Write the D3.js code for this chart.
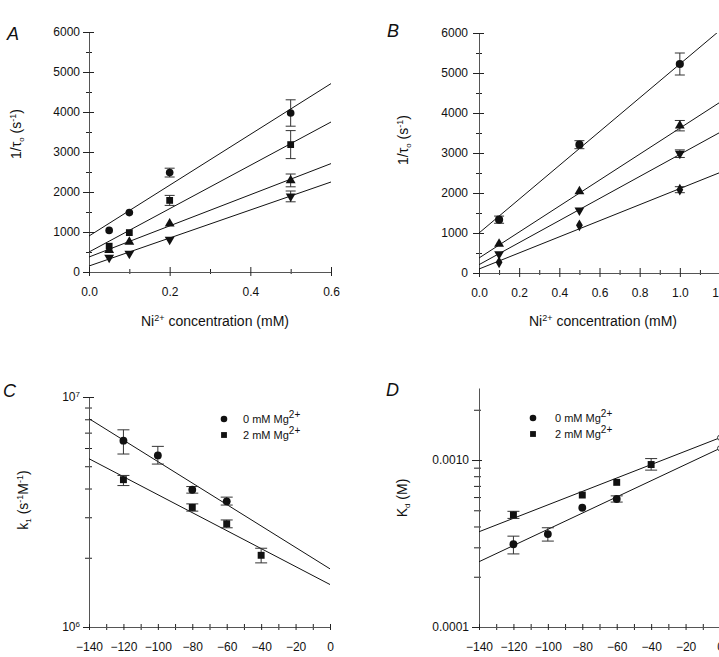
<!DOCTYPE html>
<html><head><meta charset="utf-8">
<script src="https://cdn.jsdelivr.net/npm/d3@7"></script>
<style>
body{margin:0;background:#fff}
svg{display:block}
text{font-family:"Liberation Sans",Arial,Helvetica,sans-serif;fill:#111}
</style>
</head><body>
<svg id="chart" width="719" height="657"></svg>
<script>
// ---------- Panel A data (Ni2+ mM vs 1/tau, s^-1) ----------
const concA = [0.05, 0.1, 0.2, 0.5];
const aCircle = [1040, 1485, 2485, 3975];
const aCircleErr = [null, null, 110, 330];
const aSquare = [645, 985, 1790, 3185];
const aSquareErr = [null, null, 125, 350];
const aTriUp = [545, 750, 1210, 2290];
const aTriUpErr = [null, null, null, 160];
const aTriDown = [360, 460, 810, 1890];
const aTriDownErr = [null, null, null, 135];
const aFitStart = [900, 500, 375, 150];     // fitted value at 0 mM
const aFitEnd = [4710, 3750, 2710, 2250];   // fitted value at 0.6 mM
const aXTicks = [0.0, 0.2, 0.4, 0.6];
const aYTicks = [0, 1000, 2000, 3000, 4000, 5000, 6000];

// ---------- Panel B data ----------
const concB = [0.1, 0.5, 1.0];
const bCircle = [1333, 3208, 5225];
const bCircleErr = [90, 100, 275];
const bTriUp = [725, 2042, 3683];
const bTriUpErr = [null, null, 130];
const bTriDown = [475, 1567, 2983];
const bTriDownErr = [null, null, 95];
const bDiamond = [267, 1192, 2083];
const bDiamondErr = [null, null, 75];
const bFitStart = [1000, 375, 208, 100];   // at 0 mM
const bFitEnd = [6068, 4269, 3516, 2512];  // at 1.2 mM
const bXTicks = [0.0, 0.2, 0.4, 0.6, 0.8, 1.0, 1.2];
const bYTicks = [0, 1000, 2000, 3000, 4000, 5000, 6000];

// ---------- Panel C data (voltage mV vs k1) ----------
const voltC0 = [-120, -100, -80, -60];
const cZero = [6.46e6, 5.57e6, 3.95e6, 3.52e6];
const cZeroLo = [5.65e6, 5.11e6, 3.82e6, 3.39e6];
const cZeroHi = [7.2e6, 6.1e6, 4.08e6, 3.67e6];
const voltC2 = [-120, -80, -60, -40];
const cTwo = [4.37e6, 3.31e6, 2.81e6, 2.05e6];
const cTwoLo = [4.12e6, 3.19e6, 2.70e6, 1.90e6];
const cTwoHi = [4.56e6, 3.43e6, 2.92e6, 2.20e6];
const cFit0 = [8.05e6, 1.79e6];   // at -140 and 0 mV
const cFit2 = [5.39e6, 1.53e6];

// ---------- Panel D data (voltage mV vs Kd) ----------
const voltD0 = [-120, -100, -80, -60];
const dZero = [3.13e-4, 3.6e-4, 5.18e-4, 5.84e-4];
const dZeroLo = [2.74e-4, 3.27e-4, null, 5.6e-4];
const dZeroHi = [3.5e-4, 3.93e-4, null, 6.1e-4];
const voltD2 = [-120, -80, -60, -40];
const dTwo = [4.69e-4, 6.17e-4, 7.35e-4, 9.4e-4];
const dTwoLo = [4.47e-4, null, null, 8.7e-4];
const dTwoHi = [4.93e-4, null, null, 1.02e-3];
const dFit0 = [2.46e-4, 1.175e-3];
const dFit2 = [3.72e-4, 1.36e-3];

const voltTicks = [-140, -120, -100, -80, -60, -40, -20, 0];
const legendLabels = ["0 mM Mg", "2 mM Mg"];

// ---------- helpers ----------
const svg = d3.select("#chart");
const FONT = 12;
const NOLABEL = () => "";

function symPath(kind, size) {
  if (kind === "circle") return d3.symbol(d3.symbolCircle, size || 46)();
  if (kind === "square") return d3.symbol(d3.symbolSquare, size || 46)();
  if (kind === "diamond") return d3.symbol(d3.symbolDiamond, size || 40)();
  return d3.symbol(d3.symbolTriangle, size || 42)();
}
function drawSymbol(g, kind, x, y, size) {
  g.append("path").attr("d", symPath(kind, size))
    .attr("transform", `translate(${x},${y})` + (kind === "triDown" ? " rotate(180)" : ""))
    .attr("fill", "#111");
}
function errBar(g, x, y1, y2, cap) {
  const c = cap || 5;
  g.append("line").attr("x1", x).attr("x2", x).attr("y1", y1).attr("y2", y2);
  g.append("line").attr("x1", x - c).attr("x2", x + c).attr("y1", y1).attr("y2", y1);
  g.append("line").attr("x1", x - c).attr("x2", x + c).attr("y1", y2).attr("y2", y2);
}
function styleAxis(sel, showDomain) {
  sel.selectAll(".tick line").attr("stroke", "#222");
  sel.select(".domain").attr("stroke", showDomain ? "#555" : "none");
  sel.selectAll("text").attr("font-size", FONT).attr("fill", "#111")
    .attr("font-family", '"Liberation Sans",Arial,sans-serif');
}
// crossing ticks: outer part (with labels) + inner part (no labels)
function yAxis(x0, scale, vals, outSize, inSize, fmt, pad) {
  const a = svg.append("g").attr("transform", `translate(${x0},0)`)
    .call(d3.axisLeft(scale).tickValues(vals).tickSize(outSize).tickSizeOuter(0)
      .tickPadding(pad).tickFormat(fmt || NOLABEL));
  styleAxis(a, !!fmt);
  const b = svg.append("g").attr("transform", `translate(${x0},0)`)
    .call(d3.axisRight(scale).tickValues(vals).tickSize(inSize).tickSizeOuter(0).tickFormat(NOLABEL));
  styleAxis(b, false);
  return a;
}
function xAxis(y0, scale, vals, outSize, inSize, fmt, pad) {
  const a = svg.append("g").attr("transform", `translate(0,${y0})`)
    .call(d3.axisBottom(scale).tickValues(vals).tickSize(outSize).tickSizeOuter(0)
      .tickPadding(pad).tickFormat(fmt || NOLABEL));
  styleAxis(a, !!fmt);
  const b = svg.append("g").attr("transform", `translate(0,${y0})`)
    .call(d3.axisTop(scale).tickValues(vals).tickSize(inSize).tickSizeOuter(0).tickFormat(NOLABEL));
  styleAxis(b, false);
  return a;
}
function range(a, b, s) { const r = []; for (let v = a; v <= b + 1e-9; v += s) r.push(+v.toFixed(6)); return r; }

function panelLetter(t, x, y) {
  svg.append("text").attr("x", x).attr("y", y).attr("font-size", 18)
    .attr("font-style", "italic").text(t);
}
function xTitle(cx, y) {
  const t = svg.append("text").attr("x", cx).attr("y", y).attr("text-anchor", "middle").attr("font-size", 14);
  t.append("tspan").text("Ni");
  t.append("tspan").attr("dy", -5).attr("font-size", 9).text("2+");
  t.append("tspan").attr("dy", 5).text(" concentration (mM)");
}
function tauTitle(cx, cy) {
  const t = svg.append("text").attr("transform", `translate(${cx},${cy}) rotate(-90)`)
    .attr("text-anchor", "middle").attr("font-size", 14);
  t.append("tspan").text("1/τ");
  t.append("tspan").attr("dy", 3).attr("font-size", 8).text("o");
  t.append("tspan").attr("dy", -3).text(" (s");
  t.append("tspan").attr("dy", -5).attr("font-size", 9).text("-1");
  t.append("tspan").attr("dy", 5).text(")");
}

// ================= Panel A =================
{
  const x = d3.scaleLinear().domain([0, 0.6]).range([89, 331]);
  const y = d3.scaleLinear().domain([0, 6000]).range([272, 32]);
  yAxis(89, y, range(500, 5500, 1000), 3, 3, null, 3);
  xAxis(272, x, [0.1, 0.3, 0.5], 2, 3, null, 3);
  yAxis(89, y, aYTicks, 6, 5, d3.format("d"), 3);
  xAxis(272, x, aXTicks, 4, 5, d3.format(".1f"), 11);

  const lines = svg.append("g").attr("stroke", "#111").attr("stroke-width", 1);
  aFitStart.forEach((s, i) => {
    lines.append("line").attr("x1", x(0)).attr("y1", y(s)).attr("x2", x(0.6)).attr("y2", y(aFitEnd[i]));
  });
  const eb = svg.append("g").attr("stroke", "#333").attr("stroke-width", 1);
  const series = [[aCircle, aCircleErr, "circle"], [aSquare, aSquareErr, "square"],
                  [aTriUp, aTriUpErr, "triUp"], [aTriDown, aTriDownErr, "triDown"]];
  const mk = svg.append("g");
  series.forEach(([vals, errs, kind]) => {
    vals.forEach((v, i) => {
      if (errs[i] != null) errBar(eb, x(concA[i]), y(v + errs[i]), y(v - errs[i]), 5);
      drawSymbol(mk, kind, x(concA[i]), y(v));
    });
  });
  panelLetter("A", 7, 40);
  tauTitle(21, 134);
  xTitle(215, 326);
}

// ================= Panel B =================
{
  const x = d3.scaleLinear().domain([0, 1.2]).range([479, 720]);
  const y = d3.scaleLinear().domain([0, 6000]).range([273, 33]);
  yAxis(479, y, range(500, 5500, 1000), 3, 3, null, 3);
  xAxis(273, x, range(0.1, 1.1, 0.2), 2, 3, null, 3);
  yAxis(479, y, bYTicks, 6, 5, d3.format("d"), 5);
  xAxis(273, x, bXTicks, 4, 5, d3.format(".1f"), 11);

  svg.append("clipPath").attr("id", "clipB").append("rect")
    .attr("x", 479).attr("y", 33).attr("width", 241).attr("height", 240);
  const lines = svg.append("g").attr("stroke", "#111").attr("stroke-width", 1).attr("clip-path", "url(#clipB)");
  bFitStart.forEach((s, i) => {
    lines.append("line").attr("x1", x(0)).attr("y1", y(s)).attr("x2", x(1.2)).attr("y2", y(bFitEnd[i]));
  });
  const eb = svg.append("g").attr("stroke", "#333").attr("stroke-width", 1);
  const series = [[bCircle, bCircleErr, "circle"], [bTriUp, bTriUpErr, "triUp"],
                  [bTriDown, bTriDownErr, "triDown"], [bDiamond, bDiamondErr, "diamond"]];
  const mk = svg.append("g");
  series.forEach(([vals, errs, kind]) => {
    vals.forEach((v, i) => {
      if (errs[i] != null) errBar(eb, x(concB[i]), y(v + errs[i]), y(v - errs[i]), 5);
      drawSymbol(mk, kind, x(concB[i]), y(v), kind === "circle" ? 52 : undefined);
    });
  });
  panelLetter("B", 387, 37);
  tauTitle(408, 140);
  xTitle(603, 326);
}

// ---- legend helper ----
function legend(cx, y0, tx) {
  const g = svg.append("g");
  ["circle", "square"].forEach((k, i) => {
    drawSymbol(g, k, cx, y0 + i * 16, 34);
    const t = g.append("text").attr("x", tx).attr("y", y0 + i * 16 + 4).attr("font-size", 11);
    t.append("tspan").text(legendLabels[i]);
    t.append("tspan").attr("dy", -5).attr("font-size", 10).text("2+");
  });
}
function supLabels(axisSel, fmtFn) {
  axisSel.selectAll(".tick text").each(function (d) {
    const t = d3.select(this); const [base, exp] = fmtFn(d);
    t.text(""); t.append("tspan").text(base);
    if (exp) t.append("tspan").attr("dy", "-0.55em").attr("font-size", 8).text(exp);
  });
}

// ================= Panel C =================
{
  const x = d3.scaleLinear().domain([-140, 0]).range([89, 330]);
  const y = d3.scaleLog().domain([1e6, 1e7]).range([627, 397]);
  yAxis(89, y, range(2, 9, 1).map(v => v * 1e6), 4, 3, null, 3);
  xAxis(627, x, range(-130, -10, 20), 3, 3, null, 3);
  const ya = yAxis(89, y, [1e6, 1e7], 6, 5, d => String(d), 3);
  supLabels(ya, d => ["10", String(Math.round(Math.log10(d)))]);
  xAxis(627, x, voltTicks, 3, 3, d3.format("d"), 12);

  const lines = svg.append("g").attr("stroke", "#111").attr("stroke-width", 1);
  [cFit0, cFit2].forEach(f => {
    lines.append("line").attr("x1", x(-140)).attr("y1", y(f[0])).attr("x2", x(0)).attr("y2", y(f[1]));
  });
  const eb = svg.append("g").attr("stroke", "#333").attr("stroke-width", 1);
  const mk = svg.append("g");
  [[voltC0, cZero, cZeroLo, cZeroHi, "circle"], [voltC2, cTwo, cTwoLo, cTwoHi, "square"]]
    .forEach(([xs, vs, lo, hi, kind]) => {
      vs.forEach((v, i) => {
        if (lo[i] != null) errBar(eb, x(xs[i]), y(hi[i]), y(lo[i]), 6);
        drawSymbol(mk, kind, x(xs[i]), y(v), 48);
      });
    });
  legend(224, 419, 243);
  panelLetter("C", 3, 397);
  const t = svg.append("text").attr("transform", "translate(28,500) rotate(-90)")
    .attr("text-anchor", "middle").attr("font-size", 14);
  t.append("tspan").text("k");
  t.append("tspan").attr("dy", 3).attr("font-size", 8).text("1");
  t.append("tspan").attr("dy", -3).text(" (s");
  t.append("tspan").attr("dy", -5).attr("font-size", 9).text("-1");
  t.append("tspan").attr("dy", 5).text("M");
  t.append("tspan").attr("dy", -5).attr("font-size", 9).text("-1");
  t.append("tspan").attr("dy", 5).text(")");
}

// ================= Panel D =================
{
  const x = d3.scaleLinear().domain([-140, 0]).range([479, 720]);
  const y = d3.scaleLog().domain([1e-4, 2.7e-3]).range([627, 388]);
  yAxis(479, y, range(2, 9, 1).map(v => v * 1e-4).concat([2e-3]), 5, 2, null, 3);
  xAxis(627, x, range(-130, -10, 20), 3, 3, null, 3);
  yAxis(479, y, [1e-4, 1e-3], 7, 3, d3.format(".4f"), 3);
  xAxis(627, x, voltTicks, 3, 3, d3.format("d"), 12);

  const lines = svg.append("g").attr("stroke", "#111").attr("stroke-width", 1);
  const ends = svg.append("g");
  [dFit0, dFit2].forEach(f => {
    lines.append("line").attr("x1", x(-140)).attr("y1", y(f[0])).attr("x2", x(0)).attr("y2", y(f[1]));
    ends.append("circle").attr("cx", x(0)).attr("cy", y(f[1])).attr("r", 2.5)
      .attr("fill", "#fff").attr("stroke", "#333");
  });
  const eb = svg.append("g").attr("stroke", "#333").attr("stroke-width", 1);
  const mk = svg.append("g");
  [[voltD0, dZero, dZeroLo, dZeroHi, "circle"], [voltD2, dTwo, dTwoLo, dTwoHi, "square"]]
    .forEach(([xs, vs, lo, hi, kind]) => {
      vs.forEach((v, i) => {
        if (lo[i] != null) errBar(eb, x(xs[i]), y(hi[i]), y(lo[i]), 6);
        drawSymbol(mk, kind, x(xs[i]), y(v), 48);
      });
    });
  legend(533, 418, 555);
  panelLetter("D", 386, 396);
  const t = svg.append("text").attr("transform", "translate(407,498) rotate(-90)")
    .attr("text-anchor", "middle").attr("font-size", 14);
  t.append("tspan").text("K");
  t.append("tspan").attr("dy", 3).attr("font-size", 8).text("d");
  t.append("tspan").attr("dy", -3).text(" (M)");
}
</script>
</body></html>
